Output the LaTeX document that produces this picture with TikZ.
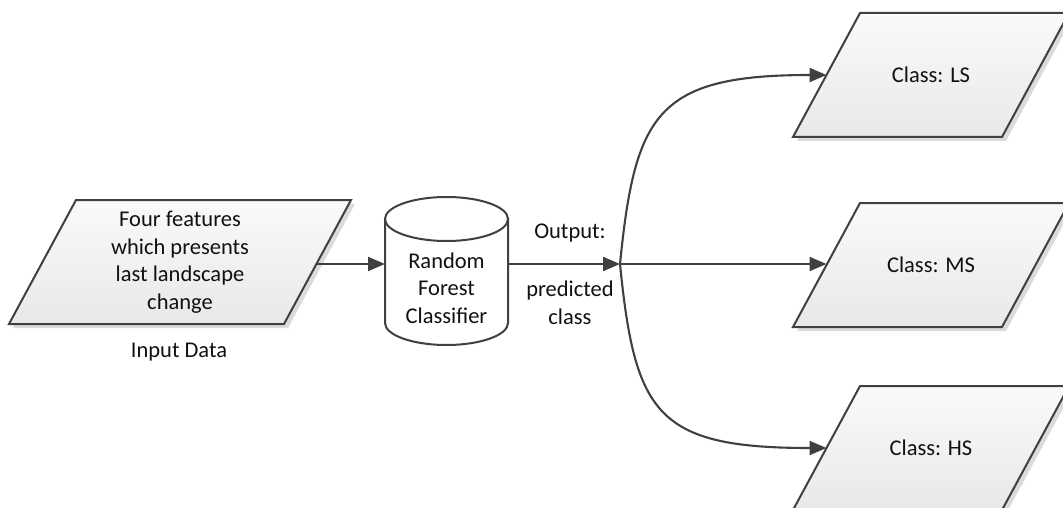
\documentclass[tikz,border=0pt]{standalone}
\usepackage{fontspec}
\setmainfont{Carlito}
\usetikzlibrary{arrows.meta}
\definecolor{edge}{HTML}{404040}
\definecolor{txt}{HTML}{111111}
\tikzset{
  conn/.style={draw=edge, line width=2.1pt, -{Triangle[length=17pt,width=14pt]}},
  parafill/.style={draw=edge, line width=2pt, line join=miter, top color=black!2, bottom color=black!9},
  parashadow/.style={fill=black!14, draw=none},
  cylstyle/.style={draw=edge, line width=2pt, fill=white},
  lbl/.style={text=txt, font=\fontsize{22.5}{27.5}\selectfont, align=center, inner sep=0pt},
}
% \ParaBox{cx}{cy}{side}
\newcommand\ParaBox[3]{%
  \fill[parashadow] ({#1-#3/2+33.5+4},{#2-62+4}) -- ({#1+#3/2+33.5+4},{#2-62+4}) -- ({#1+#3/2-33.5+4},{#2+62+4}) -- ({#1-#3/2-33.5+4},{#2+62+4}) -- cycle;
  \path[parafill] ({#1-#3/2+33.5},{#2-62}) -- ({#1+#3/2+33.5},{#2-62}) -- ({#1+#3/2-33.5},{#2+62}) -- ({#1-#3/2-33.5},{#2+62}) -- cycle;
}
\begin{document}
\begin{tikzpicture}[x=1pt,y=-1pt]
\useasboundingbox (0,0) rectangle (1063,508);
\clip (0,0) rectangle (1063,508);

% input parallelogram
\ParaBox{180}{262}{275}
\node[lbl] (in) at (180,262) {Four features\\which presents\\last landscape\\change};
\node[lbl] (inlbl) at (179,352) {Input Data};
\coordinate (inR) at (316,264);

% cylinder
\path[cylstyle] (385,219) -- (385,323) arc[start angle=180, end angle=0, x radius=61.5, y radius=22] -- (508,219) -- cycle;
\draw[cylstyle] (446.5,219) ellipse [x radius=61.5, y radius=22];
\node[lbl] (cyl) at (446.5,288) {Random\\Forest\\Classifier};
\coordinate (cylW) at (385,264);
\coordinate (cylE) at (508,264);

% output labels
\node[lbl] (outlbl) at (570,233) {Output:};
\node[lbl] (predlbl) at (570,303) {predicted\\class};
\coordinate (split) at (620,264);

% class boxes
\ParaBox{931}{75}{209}
\node[lbl] (ls) at (931,75) {Class: LS};
\coordinate (lsW) at (826.5,75);
\ParaBox{931}{265}{209}
\node[lbl] (ms) at (931,265) {Class: MS};
\coordinate (msW) at (826.5,264);
\ParaBox{931}{448}{209}
\node[lbl] (hs) at (931,448) {Class: HS};
\coordinate (hsW) at (826.5,448);

% connectors
\draw[conn] (inR) -- (cylW);
\draw[conn] (cylE) -- (split);
\draw[conn] (split) -- (msW);
\draw[conn] (split) .. controls +(15,-150) and +(-170,0) .. (lsW);
\draw[conn] (split) .. controls +(15,150) and +(-170,0) .. (hsW);
\end{tikzpicture}
\end{document}
